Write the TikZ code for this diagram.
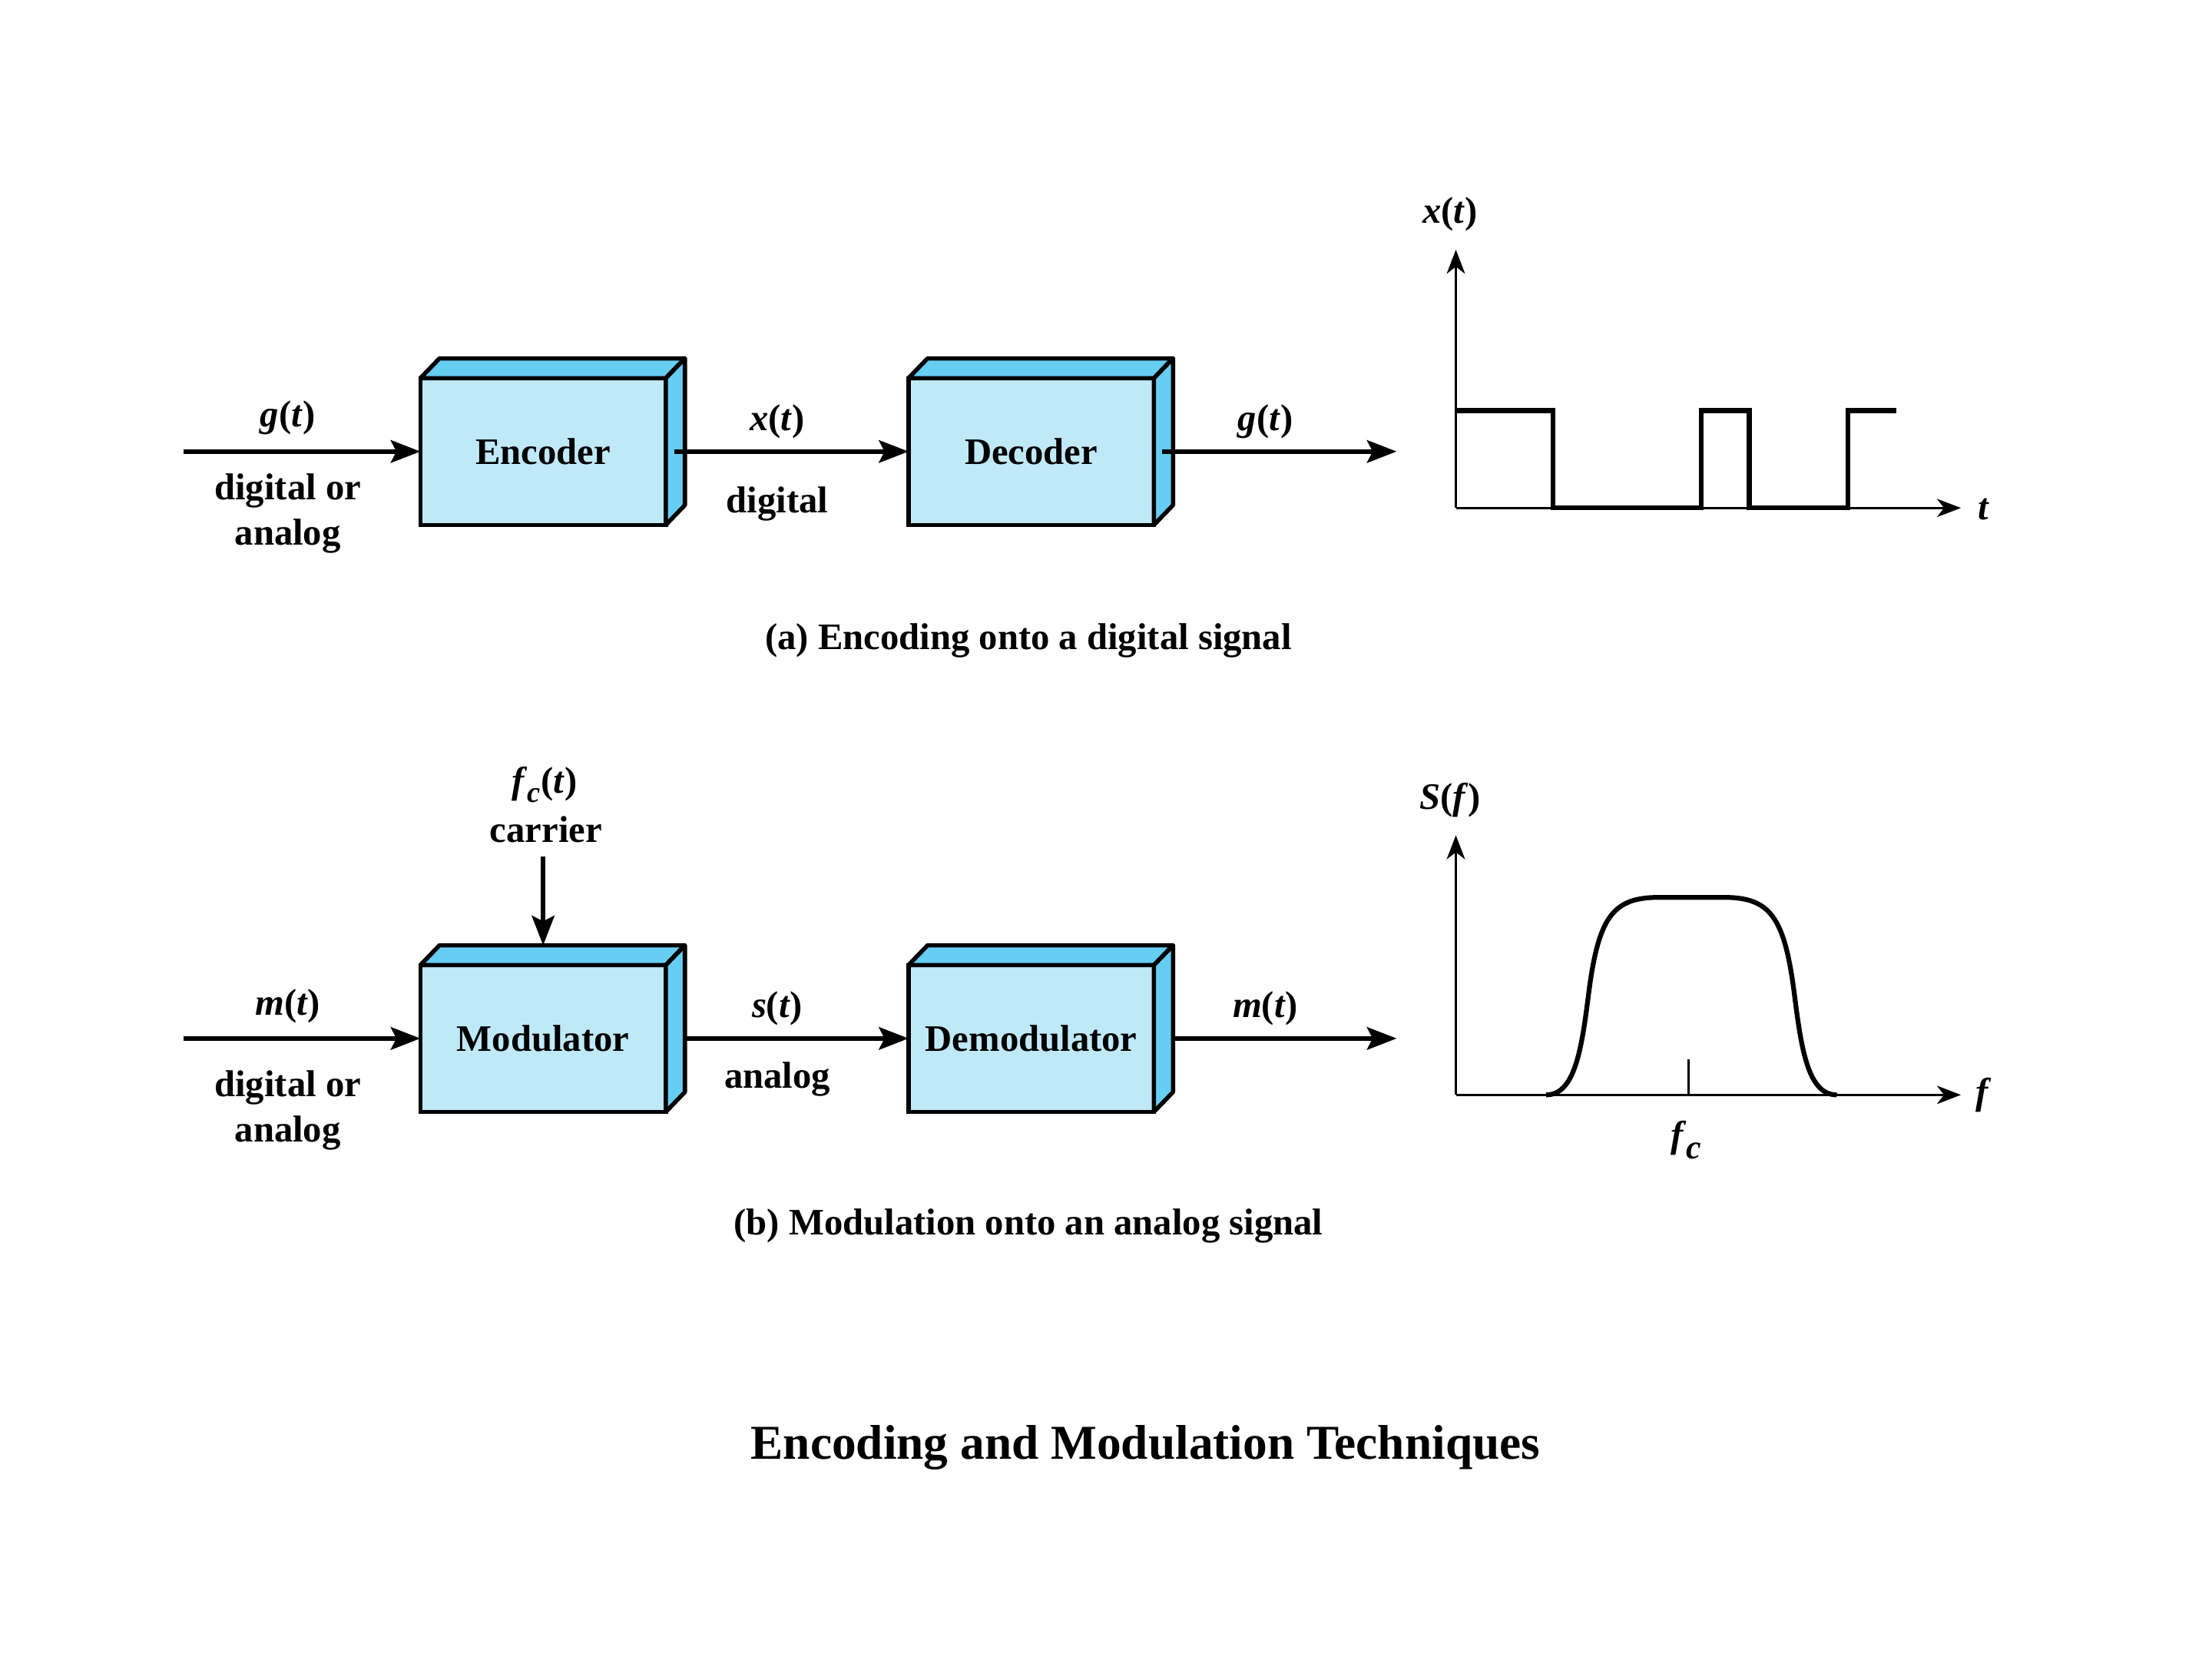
\documentclass[tikz,border=0pt]{standalone}
\usepackage{fontspec}
\setmainfont{Liberation Serif}
\usetikzlibrary{arrows.meta,calc}

\definecolor{boxfront}{RGB}{192,233,248}
\definecolor{boxside}{RGB}{102,205,243}

\newcommand{\sigvar}[1]{\textit{#1}}

\tikzset{
  blk/.style={draw, line width=3pt, fill=boxfront, outer sep=0pt,
    minimum width=174pt, minimum height=104pt,
    font=\fontsize{26.5}{30}\selectfont\bfseries},
  face/.style={draw, line width=3pt, fill=boxside, line join=round},
  sig/.style={line width=3pt, -{Stealth[length=21pt,width=16pt,inset=4pt]}},
  lbl/.style={font=\fontsize{26.5}{32}\selectfont\bfseries, align=center},
  axis/.style={line width=1.4pt, -{Stealth[length=17pt,width=13pt,inset=5pt]}},
  wave/.style={line width=3.4pt},
}

\begin{document}
\begin{tikzpicture}[x=1pt,y=-1pt]
\useasboundingbox (0,0) rectangle (1568,1176);

         % blocks
         \node [blk] (enc) at (385,320) {Encoder};
         \node [blk] (dec) at (731,320) {Decoder};
         \node [blk] (mod) at (385,736) {Modulator};
         \node [blk] (dem) at (731,736) {Demodulator};

         \foreach \b in {enc,dec,mod,dem} {
           \draw [face] (\b.north west) -- ++(13.5,-14) -- ($(\b.north east)+(13.5,-14)$) -- (\b.north east) -- cycle;
           \draw [face] (\b.north east) -- ++(13.5,-14) -- ($(\b.south east)+(13.5,-14)$) -- (\b.south east) -- cycle;
         }

         % (a) encoding
         \coordinate (gin)  at (130,320);
         \coordinate (gout) at (990,320);
         \draw [sig] (gin) -- (enc.west);
         \draw [sig] ([xshift=6pt]enc.east) -- (dec.west);
         \draw [sig] ([xshift=6pt]dec.east) -- (gout);

         \node [lbl] (gtxt)  at (204,296) {\sigvar{g}(\sigvar{t})};
         \node [lbl] (gkind) at (204,364) {digital or\\analog};
         \node [lbl] (xtxt)  at (551,299) {\sigvar{x}(\sigvar{t})};
         \node [lbl] (xkind) at (551,357) {digital};
         \node [lbl] (gotxt) at (897,299) {\sigvar{g}(\sigvar{t})};

         \coordinate (ao) at (1032,360);
         \coordinate (ay) at (1032,177);
         \coordinate (ax) at (1390,360);
         \draw [axis] (ao) -- (ay);
         \draw [axis] (ao) -- (ax);
         \node [lbl] (xlab) at (1028,152) {\sigvar{x}(\sigvar{t})};
         \node [lbl] (tlab) at (1406,361) {\sigvar{t}};
         \draw [wave] (1032,291) -- (1101,291) -- (1101,360) -- (1206,360) -- (1206,291)
                      -- (1240,291) -- (1240,360) -- (1310,360) -- (1310,291) -- (1344,291);

         \node [lbl] (capa) at (729,454) {(a) Encoding onto a digital signal};

         % (b) modulation
         \coordinate (min)  at (130,736);
         \coordinate (mout) at (990,736);
         \coordinate (fcin) at (385,607);
         \draw [sig] (min) -- (mod.west);
         \draw [sig] ([xshift=13.5pt]mod.east) -- (dem.west);
         \draw [sig] ([xshift=13.5pt]dem.east) -- (mout);
         \draw [sig] (fcin) -- ([yshift=14pt]mod.north);

         \node [lbl] (fctxt) at (386,556) {\sigvar{f}\raisebox{-0.25em}{\fontsize{21}{21}\selectfont\sigvar{c}}(\sigvar{t})};
         \node [lbl] (fckind) at (387,588) {carrier};
         \node [lbl] (mtxt)  at (204,713) {\sigvar{m}(\sigvar{t})};
         \node [lbl] (mkind) at (204,787) {digital or\\analog};
         \node [lbl] (stxt)  at (551,715) {\sigvar{s}(\sigvar{t})};
         \node [lbl] (skind) at (551,765) {analog};
         \node [lbl] (motxt) at (897,715) {\sigvar{m}(\sigvar{t})};

         \coordinate (bo) at (1032,776);
         \coordinate (by) at (1032,592);
         \coordinate (bx) at (1390,776);
         \draw [axis] (bo) -- (by);
         \draw [axis] (bo) -- (bx);
         \node [lbl] (slab) at (1028,567) {\sigvar{S}(\sigvar{f})};
         \node [lbl] (flab) at (1406,776) {\sigvar{f}};
         \node [lbl] (fclab) at (1195,808) {\sigvar{f}\raisebox{-0.3em}{\fontsize{24}{24}\selectfont\sigvar{c}}};
         \draw [line width=1.3pt] (1197,776) -- (1197,751);
         \draw [wave] (1096,776) .. controls (1116,776) and (1121,745) .. (1126,705)
                      .. controls (1133,650) and (1143,636) .. (1176,636) -- (1222,636)
                      .. controls (1255,636) and (1265,650) .. (1272,705)
                      .. controls (1277,745) and (1282,776) .. (1302,776);

         \node [lbl] (capb) at (729,869) {(b) Modulation onto an analog signal};

         % title
         \node [font=\fontsize{34.5}{40}\selectfont\bfseries] (title) at (812,1026) {Encoding and Modulation Techniques};

\end{tikzpicture}
\end{document}
